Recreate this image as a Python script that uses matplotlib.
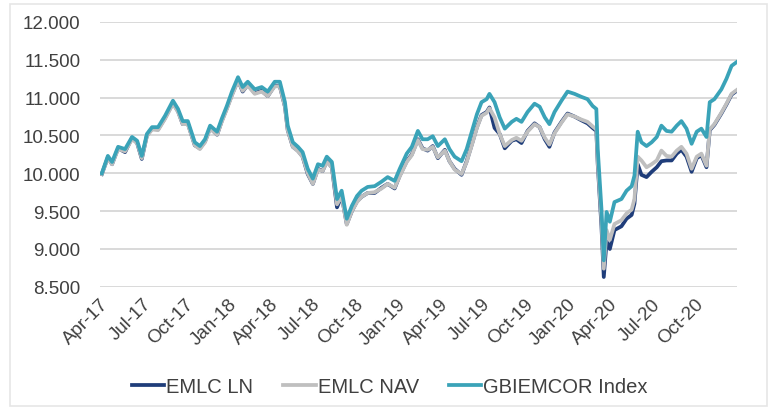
import matplotlib
matplotlib.use('Agg')
import matplotlib.pyplot as plt
import matplotlib.dates as mdates
from matplotlib.patches import Rectangle
import numpy as np

#~~~~~~~~~~~~~~~~~~~~~~~~~~~~~~~~~data~~~~~~~~~~~~~~~~~~~~~~~~~~~~~~~~~
dates = [
    '2017-04-05', '2017-04-18', '2017-04-27', '2017-05-10', '2017-05-25', '2017-06-09', '2017-06-20',
    '2017-06-30', '2017-07-11', '2017-07-22', '2017-08-04', '2017-08-19', '2017-09-05', '2017-09-16',
    '2017-09-26', '2017-10-07', '2017-10-22', '2017-11-02', '2017-11-13', '2017-11-24', '2017-12-09',
    '2017-12-19', '2017-12-30', '2018-01-10', '2018-01-23', '2018-02-02', '2018-02-13', '2018-02-28',
    '2018-03-15', '2018-03-28', '2018-04-12', '2018-04-23', '2018-05-04', '2018-05-10', '2018-05-21',
    '2018-06-01', '2018-06-11', '2018-06-22', '2018-07-03', '2018-07-14', '2018-07-24', '2018-08-02',
    '2018-08-13', '2018-08-24', '2018-09-03', '2018-09-14', '2018-09-25', '2018-10-06', '2018-10-16',
    '2018-10-29', '2018-11-13', '2018-11-28', '2018-12-11', '2018-12-26', '2019-01-06', '2019-01-21',
    '2019-02-01', '2019-02-14', '2019-02-24', '2019-03-07', '2019-03-18', '2019-03-29', '2019-04-13',
    '2019-04-23', '2019-05-04', '2019-05-19', '2019-05-30', '2019-06-10', '2019-06-21', '2019-07-01',
    '2019-07-12', '2019-07-18', '2019-07-29', '2019-08-09', '2019-08-20', '2019-09-04', '2019-09-14',
    '2019-09-25', '2019-10-08', '2019-10-23', '2019-11-03', '2019-11-14', '2019-11-24', '2019-12-05',
    '2019-12-20', '2020-01-02', '2020-01-17', '2020-02-01', '2020-02-14', '2020-02-25', '2020-03-04',
    '2020-03-07', '2020-03-15', '2020-03-20', '2020-03-26', '2020-04-02', '2020-04-12', '2020-04-27',
    '2020-05-08', '2020-05-19', '2020-05-25', '2020-06-01', '2020-06-09', '2020-06-20', '2020-07-01',
    '2020-07-12', '2020-07-22', '2020-08-02', '2020-08-13', '2020-08-24', '2020-09-03', '2020-09-14',
    '2020-09-25', '2020-10-06', '2020-10-16', '2020-10-27', '2020-11-03', '2020-11-13', '2020-11-28',
    '2020-12-09', '2020-12-20', '2020-12-31',
]

gbiemcor_index = [
    10.00, 10.23, 10.15, 10.35, 10.32, 10.48, 10.43, 10.23, 10.52, 10.61, 10.61, 10.76, 10.96, 10.85,
    10.69, 10.69, 10.41, 10.36, 10.45, 10.63, 10.55, 10.72, 10.89, 11.08, 11.27, 11.14, 11.21, 11.11,
    11.14, 11.08, 11.21, 11.21, 10.94, 10.63, 10.41, 10.35, 10.28, 10.06, 9.93, 10.12, 10.10, 10.22,
    10.15, 9.66, 9.77, 9.40, 9.57, 9.70, 9.77, 9.82, 9.83, 9.89, 9.95, 9.90, 10.06, 10.26,
    10.35, 10.56, 10.45, 10.45, 10.49, 10.36, 10.45, 10.32, 10.22, 10.16, 10.32, 10.55, 10.78, 10.94,
    10.98, 11.05, 10.94, 10.74, 10.59, 10.68, 10.72, 10.68, 10.81, 10.92, 10.88, 10.74, 10.65, 10.81,
    10.96, 11.08, 11.05, 11.01, 10.98, 10.89, 10.85, 10.32, 9.53, 8.85, 9.49, 9.36, 9.62, 9.66,
    9.77, 9.83, 9.97, 10.55, 10.41, 10.36, 10.41, 10.48, 10.63, 10.56, 10.55, 10.63, 10.69, 10.59,
    10.39, 10.55, 10.59, 10.48, 10.94, 10.98, 11.11, 11.25, 11.42, 11.47,
]

emlc_nav = [
    9.99, 10.20, 10.12, 10.32, 10.29, 10.45, 10.40, 10.20, 10.49, 10.58, 10.57, 10.72, 10.92, 10.81,
    10.65, 10.65, 10.37, 10.32, 10.41, 10.59, 10.51, 10.68, 10.85, 11.03, 11.22, 11.09, 11.16, 11.05,
    11.08, 11.02, 11.15, 11.15, 10.88, 10.57, 10.35, 10.29, 10.22, 10.00, 9.86, 10.05, 10.03, 10.15,
    10.08, 9.59, 9.70, 9.32, 9.50, 9.62, 9.69, 9.74, 9.75, 9.80, 9.86, 9.81, 9.96, 10.15,
    10.24, 10.44, 10.32, 10.31, 10.35, 10.21, 10.30, 10.16, 10.05, 9.99, 10.15, 10.37, 10.60, 10.76,
    10.80, 10.86, 10.74, 10.52, 10.36, 10.44, 10.47, 10.43, 10.55, 10.65, 10.61, 10.47, 10.38, 10.53,
    10.67, 10.78, 10.75, 10.71, 10.68, 10.62, 10.58, 10.15, 9.38, 8.74, 9.25, 9.12, 9.33, 9.38,
    9.47, 9.52, 9.66, 10.22, 10.17, 10.08, 10.12, 10.17, 10.30, 10.23, 10.22, 10.30, 10.35, 10.26,
    10.06, 10.22, 10.26, 10.10, 10.58, 10.65, 10.80, 10.92, 11.05, 11.10,
]

emlc_ln = [
    9.99, 10.21, 10.12, 10.33, 10.28, 10.47, 10.40, 10.19, 10.50, 10.59, 10.58, 10.73, 10.93, 10.82,
    10.65, 10.66, 10.37, 10.33, 10.42, 10.60, 10.51, 10.69, 10.86, 11.04, 11.23, 11.08, 11.17, 11.06,
    11.09, 11.02, 11.16, 11.15, 10.88, 10.57, 10.35, 10.30, 10.22, 9.99, 9.86, 10.06, 10.03, 10.16,
    10.08, 9.55, 9.70, 9.33, 9.50, 9.63, 9.69, 9.74, 9.74, 9.81, 9.86, 9.80, 9.97, 10.16,
    10.25, 10.45, 10.33, 10.30, 10.36, 10.20, 10.31, 10.16, 10.06, 9.98, 10.16, 10.38, 10.61, 10.77,
    10.81, 10.87, 10.60, 10.52, 10.33, 10.43, 10.45, 10.40, 10.56, 10.66, 10.61, 10.45, 10.35, 10.54,
    10.68, 10.79, 10.75, 10.70, 10.66, 10.60, 10.56, 10.12, 9.30, 8.63, 9.10, 9.00, 9.25, 9.30,
    9.40, 9.45, 9.60, 10.12, 9.98, 9.95, 10.02, 10.08, 10.16, 10.17, 10.17, 10.26, 10.31, 10.22,
    10.02, 10.20, 10.24, 10.08, 10.57, 10.64, 10.79, 10.91, 11.04, 11.09,
]

series_names = ['EMLC LN', 'EMLC NAV', 'GBIEMCOR Index']
y_ticks = [8.5, 9.0, 9.5, 10.0, 10.5, 11.0, 11.5, 12.0]

#~~~~~~~~~~~~~~~~~~~~~~~~~~~~~~~~~plot~~~~~~~~~~~~~~~~~~~~~~~~~~~~~~~~~
plt.rcParams['font.family'] = ['Liberation Sans', 'DejaVu Sans']
text_color = '#404040'

x = np.array(dates, dtype='datetime64[D]')

fig = plt.figure(figsize=(7.69, 4.10), dpi=100)
ax = fig.add_axes([0.130, 0.298, 0.828, 0.646])

ax.plot(x, emlc_ln, color='#1f3d7a', linewidth=2.7, label=series_names[0])
ax.plot(x, emlc_nav, color='#bfbfbf', linewidth=2.7, label=series_names[1])
ax.plot(x, gbiemcor_index, color='#3aa3b8', linewidth=2.7, label=series_names[2])

ax.set_ylim(8.5, 12.0)
ax.set_yticks(y_ticks)
ax.set_yticklabels([f'{v:.3f}' for v in y_ticks])
ax.set_xlim(np.datetime64('2017-04-01'), np.datetime64('2020-12-31'))

# quarterly ticks, Apr-17 .. Oct-20
ax.xaxis.set_major_locator(mdates.MonthLocator(bymonth=[1, 4, 7, 10]))
ax.xaxis.set_major_formatter(mdates.DateFormatter('%b-%y'))

ax.grid(axis='y', color='#d9d9d9', linewidth=1.4)
ax.set_axisbelow(True)
for s in ax.spines.values():
    s.set_visible(False)

ax.tick_params(axis='y', length=0, pad=14, labelsize=13.5, labelcolor=text_color)
ax.tick_params(axis='x', length=0, pad=6, labelsize=13.5, labelcolor=text_color)
for lab in ax.get_xticklabels():
    lab.set_rotation(45)
    lab.set_ha('right')
    lab.set_rotation_mode('anchor')

fig.legend(loc='center', bbox_to_anchor=(0.507, 0.055), ncol=3, frameon=False,
           fontsize=14.5, labelcolor=text_color, handlelength=1.6, handletextpad=0.1,
           columnspacing=1.5)

# faint outer frame
fig.patches.append(Rectangle((10 / 769, 3 / 410), 757 / 769, 402 / 410, transform=fig.transFigure,
                             fill=False, edgecolor='#e6e6e6', linewidth=1.2))

fig.savefig('out.png', dpi=100)
